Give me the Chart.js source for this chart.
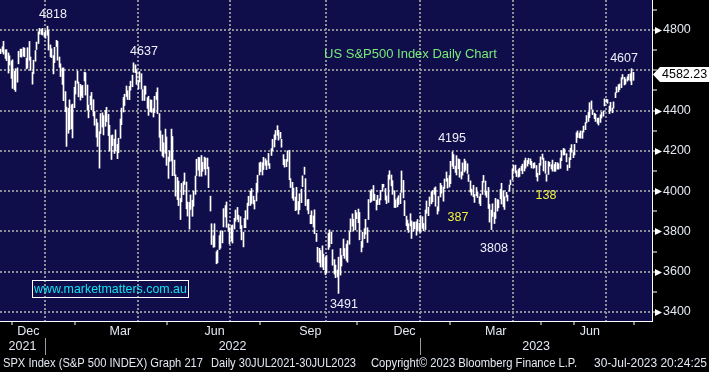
<!DOCTYPE html>
<html>
<head>
<meta charset="utf-8">
<title>US S&amp;P500 Index Daily Chart</title>
<script src="https://cdn.jsdelivr.net/npm/chart.js@4.4.0/dist/chart.umd.min.js"></script>
<style>
  html, body { margin: 0; padding: 0; background: #000; }
  #wrap { width: 709px; height: 372px; }
</style>
</head>
<body>
<div id="wrap"><canvas id="spxChart" width="709" height="372"></canvas></div>
<script>
// trading days per month, from 18 Nov 2021 to 28 Jul 2023
const monthDays = [8, 22, 20, 19, 23, 20, 21, 21, 20, 23, 21, 21, 21, 21, 20, 19, 23, 19, 22, 21, 19];
const monthLabels = ["", "Dec", "", "", "Mar", "", "", "Jun", "", "", "Sep", "", "", "Dec", "", "", "Mar", "", "", "Jun", ""];
const yearLabels = ["2021", "2022", "2023"];
const yearFirstMonth = [0, 2, 14];
const gridMonths = [2, 5, 8, 11, 14, 17, 20];        // dotted verticals (quarter starts)
const tickMonths = [1, 3, 6, 9, 12, 15, 18, 19, 21];  // small ticks under the axis
const emptySlots = 12;

// daily highs and lows, one row per month
const highs = [
  4705, 4717, 4744, 4702, 4702, 4686, 4672, 4646,
  4652, 4595, 4608, 4612, 4694, 4705, 4705, 4713, 4710, 4660, 4712, 4743, 4666, 4591, 4650, 4698, 4740, 4791, 4808, 4804, 4808, 4787,
  4797, 4819, 4797, 4726, 4707, 4673, 4714, 4749, 4744, 4666, 4632, 4611, 4612, 4494, 4417, 4411, 4453, 4428, 4432, 4516,
  4547, 4596, 4542, 4530, 4522, 4525, 4591, 4588, 4527, 4427, 4472, 4490, 4454, 4395, 4358, 4339, 4295, 4385, 4389,
  4375, 4401, 4416, 4381, 4327, 4276, 4279, 4258, 4304, 4232, 4262, 4358, 4412, 4465, 4481, 4522, 4498, 4520, 4546, 4576, 4637, 4627, 4603,
  4549, 4593, 4583, 4504, 4522, 4521, 4464, 4471, 4453, 4452, 4410, 4471, 4490, 4513, 4385, 4299, 4279, 4240, 4308, 4269,
  4169, 4200, 4308, 4271, 4154, 4081, 4068, 4050, 3964, 4038, 4047, 4090, 4045, 3946, 3944, 3981, 3955, 3999, 4075, 4158, 4168,
  4166, 4177, 4143, 4169, 4164, 4164, 4119, 3975, 3838, 3778, 3838, 3699, 3707, 3779, 3801, 3802, 3913, 3928, 3946, 3837, 3818,
  3829, 3832, 3865, 3906, 3919, 3880, 3873, 3829, 3796, 3864, 3903, 3940, 3974, 3999, 4013, 3975, 3954, 4039, 4079, 4140,
  4144, 4141, 4168, 4161, 4151, 4187, 4137, 4211, 4257, 4280, 4301, 4325, 4302, 4292, 4257, 4181, 4157, 4157, 4200, 4203, 4062, 4044, 4015,
  3970, 4019, 3948, 3987, 4010, 4076, 4119, 4062, 3957, 3959, 3880, 3902, 3877, 3907, 3790, 3721, 3716, 3705, 3728, 3687, 3671,
  3680, 3791, 3807, 3797, 3709, 3660, 3633, 3608, 3672, 3715, 3680, 3762, 3715, 3737, 3754, 3799, 3862, 3887, 3860, 3905, 3893,
  3911, 3894, 3750, 3796, 3813, 3860, 3818, 3958, 4001, 4008, 4028, 3984, 3955, 3979, 3962, 4004, 4034, 4034, 4013, 3976, 4080,
  4101, 4080, 4052, 4002, 3957, 3966, 3977, 3991, 4100, 4053, 3953, 3876, 3856, 3838, 3888, 3852, 3846, 3846, 3848, 3859, 3840,
  3879, 3873, 3839, 3906, 3951, 3920, 3971, 3997, 4003, 4015, 4021, 3922, 3973, 4039, 4028, 4020, 4060, 4095, 4063, 4077,
  4148, 4195, 4182, 4124, 4176, 4160, 4157, 4095, 4140, 4159, 4149, 4136, 4082, 4051, 4010, 4029, 3983, 4018, 3996,
  3972, 3986, 4049, 4078, 4050, 4000, 4018, 3934, 3905, 3937, 3894, 3964, 3958, 3956, 4009, 4039, 4002, 3972, 3994, 3980, 4030, 4055, 4110,
  4127, 4129, 4100, 4107, 4114, 4124, 4134, 4151, 4164, 4152, 4163, 4160, 4148, 4138, 4141, 4127, 4089, 4138, 4170,
  4184, 4164, 4149, 4082, 4147, 4143, 4131, 4154, 4132, 4143, 4141, 4136, 4164, 4201, 4212, 4209, 4186, 4130, 4166, 4213, 4231, 4192,
  4232, 4290, 4299, 4288, 4299, 4298, 4323, 4340, 4375, 4391, 4439, 4448, 4404, 4387, 4382, 4362, 4363, 4379, 4391, 4398, 4458,
  4456, 4454, 4422, 4441, 4412, 4443, 4489, 4517, 4528, 4532, 4563, 4579, 4565, 4556, 4568, 4580, 4583, 4608, 4590
];
const lows = [
  4682, 4691, 4680, 4659, 4648, 4586, 4626, 4560,
  4510, 4504, 4495, 4541, 4632, 4667, 4665, 4670, 4667, 4607, 4611, 4650, 4600, 4531, 4583, 4645, 4703, 4733, 4780, 4778, 4775, 4766,
  4759, 4774, 4700, 4667, 4663, 4582, 4638, 4718, 4650, 4615, 4569, 4530, 4449, 4395, 4222, 4287, 4305, 4309, 4264, 4414,
  4482, 4536, 4468, 4452, 4471, 4464, 4547, 4477, 4402, 4364, 4429, 4404, 4373, 4327, 4268, 4222, 4114, 4286, 4318,
  4279, 4322, 4345, 4276, 4199, 4157, 4226, 4187, 4200, 4161, 4191, 4262, 4330, 4393, 4425, 4470, 4455, 4454, 4501, 4518, 4590, 4588, 4530,
  4507, 4542, 4507, 4450, 4450, 4481, 4411, 4376, 4395, 4391, 4368, 4390, 4455, 4385, 4267, 4201, 4175, 4168, 4188, 4128,
  4063, 4147, 4150, 4077, 4077, 3975, 3958, 3928, 3859, 3947, 3983, 4033, 3912, 3876, 3811, 3909, 3875, 3925, 3984, 4077, 4104,
  4074, 4074, 4098, 4110, 4080, 4111, 4017, 3901, 3735, 3721, 3723, 3639, 3644, 3710, 3717, 3743, 3822, 3871, 3820, 3800, 3738,
  3752, 3742, 3812, 3850, 3860, 3847, 3813, 3758, 3723, 3818, 3818, 3860, 3928, 3929, 3939, 3936, 3911, 3951, 3995, 4080,
  4096, 4080, 4107, 4128, 4107, 4128, 4112, 4177, 4201, 4219, 4256, 4277, 4253, 4262, 4218, 4131, 4119, 4121, 4148, 4057, 4018, 3965, 3954,
  3903, 3907, 3886, 3907, 3943, 4022, 4083, 3928, 3906, 3887, 3838, 3838, 3822, 3789, 3750, 3648, 3644, 3623, 3623, 3610, 3585,
  3594, 3710, 3722, 3739, 3632, 3588, 3570, 3574, 3492, 3583, 3628, 3680, 3666, 3656, 3647, 3736, 3799, 3826, 3803, 3808, 3863,
  3843, 3758, 3698, 3721, 3764, 3786, 3745, 3859, 3944, 3949, 3954, 3954, 3906, 3933, 3933, 3956, 3999, 4020, 3956, 3938, 3944,
  4059, 4026, 3984, 3919, 3918, 3922, 3933, 3938, 3994, 3966, 3878, 3828, 3808, 3795, 3827, 3765, 3801, 3813, 3781, 3805, 3800,
  3795, 3815, 3803, 3809, 3890, 3878, 3925, 3937, 3947, 3984, 3925, 3886, 3901, 3971, 3990, 3950, 4013, 4049, 4015, 4020,
  4037, 4124, 4111, 4093, 4080, 4111, 4069, 4060, 4079, 4095, 4104, 4088, 4048, 3995, 3980, 3972, 3944, 3977, 3968,
  3939, 3928, 3984, 4044, 3980, 3969, 3914, 3846, 3809, 3874, 3839, 3864, 3901, 3917, 3962, 3936, 3922, 3909, 3970, 3951, 3999, 4032, 4057,
  4099, 4090, 4072, 4069, 4073, 4102, 4086, 4100, 4114, 4124, 4137, 4131, 4115, 4113, 4117, 4071, 4050, 4081, 4128,
  4158, 4100, 4088, 4049, 4083, 4124, 4110, 4099, 4098, 4099, 4110, 4109, 4113, 4151, 4179, 4180, 4145, 4103, 4116, 4156, 4193, 4166,
  4180, 4241, 4266, 4264, 4263, 4262, 4293, 4305, 4339, 4346, 4365, 4407, 4380, 4360, 4346, 4337, 4328, 4341, 4363, 4372, 4423,
  4442, 4436, 4385, 4398, 4389, 4412, 4464, 4489, 4493, 4504, 4514, 4557, 4527, 4532, 4546, 4553, 4547, 4528, 4550
];

const lastPrice = 4582.23;
const priceMin = 3355;
const priceMax = 4949;

// chart notes: text, trading-day slot and price where the text is centred
const notes = [
  ["4818", 34.9, 4879],
  ["4637", 95.8, 4691],
  ["4195", 301.8, 4259],
  ["4607", 416.8, 4656],
  ["3491", 229.5, 3439],
  ["3808", 329.8, 3717]
];
const yellowNotes = [
  ["387", 305.8, 3871],
  ["138", 364.6, 3976]
];
const chartTitle = ["US S&P500 Index Daily Chart", 216.2, 4681];

// footer pieces: text, left x, max width
const footer = [
  ["SPX Index (S&P 500 INDEX) Graph 217", 3, 200],
  ["Daily 30JUL2021-30JUL2023", 211, 145],
  ["Copyright\u00A9 2023 Bloomberg Finance L.P.", 371, 206],
  ["30-Jul-2023 20:24:25", 594, 113]
];

const FONT = "'Liberation Sans', Arial, sans-serif";
const NAVY = '#0f0d4a';
const DOTS = '#8e8e96';
const LABEL = '#e3e8f2';

// category labels: one per trading day, plus empty room at the right
const dayLabels = [];
const monthStart = [0];
monthDays.forEach((n, m) => {
  for (let d = 0; d < n; d++) dayLabels.push('m' + m);
  monthStart.push(monthStart[m] + n);
});
for (let i = 0; i < emptySlots; i++) dayLabels.push('');

const gridSlots = new Set(gridMonths.map(m => monthStart[m]));
const tickSlots = new Set(tickMonths.map(m => monthStart[m]));

const bloombergLook = {
  id: 'bloombergLook',
  beforeDraw(chart) {
    const { ctx, chartArea: a } = chart;
    ctx.save();
    ctx.fillStyle = '#000';
    ctx.fillRect(0, 0, chart.width, chart.height);
    ctx.fillStyle = NAVY;
    ctx.fillRect(a.left, a.top, a.right - a.left, a.bottom - a.top);
    ctx.restore();
  },
  beforeDatasetsDraw(chart) {
    // snap each 1px bar on to a whole pixel so it stays crisp
    chart.getDatasetMeta(0).data.forEach(bar => { bar.x = Math.floor(bar.x) + 0.5; });
  },
  afterDraw(chart) {
    const { ctx, chartArea: a, scales: { x, y } } = chart;
    const slotW = x.getPixelForValue(1) - x.getPixelForValue(0);
    const edge = i => x.getPixelForValue(i) - slotW / 2;
    ctx.save();
    ctx.textBaseline = 'middle';

    // arrow heads on labelled price ticks
    ctx.fillStyle = '#fff';
    y.ticks.forEach(t => {
      if (t.value % 200 !== 0 || Math.abs(t.value - lastPrice) < 40) return;
      const py = Math.round(y.getPixelForValue(t.value));
      ctx.beginPath();
      ctx.moveTo(a.right + 3, py - 3);
      ctx.lineTo(a.right + 10, py + 0.5);
      ctx.lineTo(a.right + 3, py + 4);
      ctx.closePath();
      ctx.fill();
    });

    // last price tag
    const ly = Math.round(y.getPixelForValue(lastPrice)) + 0.5;
    ctx.beginPath();
    ctx.moveTo(a.right + 1, ly);
    ctx.lineTo(a.right + 8, ly - 7.5);
    ctx.lineTo(chart.width, ly - 7.5);
    ctx.lineTo(chart.width, ly + 7.5);
    ctx.lineTo(a.right + 8, ly + 7.5);
    ctx.closePath();
    ctx.fill();
    ctx.fillStyle = '#000';
    ctx.font = '12.5px ' + FONT;
    ctx.textAlign = 'left';
    ctx.fillText(lastPrice.toFixed(2), a.right + 10, ly + 0.5);

    // month and year labels under the axis
    ctx.fillStyle = LABEL;
    ctx.textAlign = 'center';
    monthLabels.forEach((txt, m) => {
      if (!txt) return;
      ctx.fillText(txt, (edge(monthStart[m]) + edge(monthStart[m + 1])) / 2, 332);
    });
    yearLabels.forEach((txt, k) => {
      const from = edge(monthStart[yearFirstMonth[k]]);
      const to = k + 1 < yearLabels.length ? edge(monthStart[yearFirstMonth[k + 1]]) : a.right;
      ctx.fillText(txt, (from + to) / 2, 347);
    });
    ctx.strokeStyle = '#9a9aa0';
    ctx.lineWidth = 1;
    yearFirstMonth.slice(1).forEach(m => {
      const sx = Math.round(edge(monthStart[m])) + 0.5;
      ctx.beginPath();
      ctx.moveTo(sx, 338);
      ctx.lineTo(sx, 355);
      ctx.stroke();
    });

    // footer line
    ctx.font = '12px ' + FONT;
    ctx.textAlign = 'left';
    footer.forEach(([txt, fx, w]) => ctx.fillText(txt, fx, 364, w));

    // notes on the chart
    ctx.font = '12.5px ' + FONT;
    ctx.textAlign = 'center';
    ctx.fillStyle = '#eef2fb';
    notes.forEach(([txt, d, v]) => ctx.fillText(txt, x.getPixelForValue(d), y.getPixelForValue(v)));
    ctx.fillStyle = '#f2f23c';
    yellowNotes.forEach(([txt, d, v]) => ctx.fillText(txt, x.getPixelForValue(d), y.getPixelForValue(v)));

    ctx.font = '13px ' + FONT;
    ctx.textAlign = 'left';
    ctx.fillStyle = '#78ea78';
    ctx.fillText(chartTitle[0], x.getPixelForValue(chartTitle[1]), y.getPixelForValue(chartTitle[2]));

    // website box
    ctx.strokeStyle = '#ffffff';
    ctx.strokeRect(32.5, 280.5, 156, 17);
    ctx.fillStyle = '#12e2f2';
    ctx.font = '12.4px ' + FONT;
    ctx.fillText('www.marketmatters.com.au', 34, 289.5, 153);
    ctx.restore();
  }
};

Chart.defaults.font.family = FONT;

const ctx = document.getElementById('spxChart').getContext('2d');
const spxChart = new Chart(ctx, {
  type: 'bar',
  data: {
    labels: dayLabels,
    datasets: [{
      label: 'SPX',
      data: lows.map((lo, i) => [lo, highs[i]]),
      backgroundColor: '#ffffff',
      borderWidth: 0,
      barThickness: 1
    }]
  },
  options: {
    responsive: false,
    animation: false,
    devicePixelRatio: 1,
    layout: { padding: 0 },
    plugins: { legend: { display: false }, tooltip: { enabled: false } },
    scales: {
      x: {
        position: 'bottom',
        ticks: { display: false },
        grid: {
          display: true,
          offset: true,
          lineWidth: 2,
          color: c => gridSlots.has(c.index) ? DOTS : 'rgba(0,0,0,0)',
          drawTicks: true,
          tickLength: 4,
          tickWidth: 1,
          tickColor: c => tickSlots.has(c.index) ? '#ffffff' : 'rgba(0,0,0,0)'
        },
        border: { display: true, color: '#ffffff', width: 1, dash: [2, 2] },
        afterFit: s => { s.height = 51; s.paddingLeft = 0; s.paddingRight = 0; }
      },
      y: {
        position: 'right',
        min: priceMin,
        max: priceMax,
        afterBuildTicks: s => {
          const t = [];
          for (let v = 3400; v <= 4900; v += 100) t.push({ value: v });
          s.ticks = t;
        },
        ticks: {
          color: LABEL,
          font: { size: 12.5 },
          padding: 6,
          callback: v => (v % 200 === 0 && Math.abs(v - lastPrice) > 40) ? String(v) : ''
        },
        grid: {
          lineWidth: 2,
          color: c => (c.tick && c.tick.value % 200 === 0) ? DOTS : 'rgba(0,0,0,0)',
          drawTicks: true,
          tickLength: 5,
          tickWidth: 1,
          tickColor: '#ffffff'
        },
        border: { display: true, color: '#ffffff', width: 1, dash: [2, 2] },
        afterFit: s => { s.width = 57; s.paddingTop = 0; s.paddingBottom = 0; }
      }
    }
  },
  plugins: [bloombergLook]
});
</script>
</body>
</html>
